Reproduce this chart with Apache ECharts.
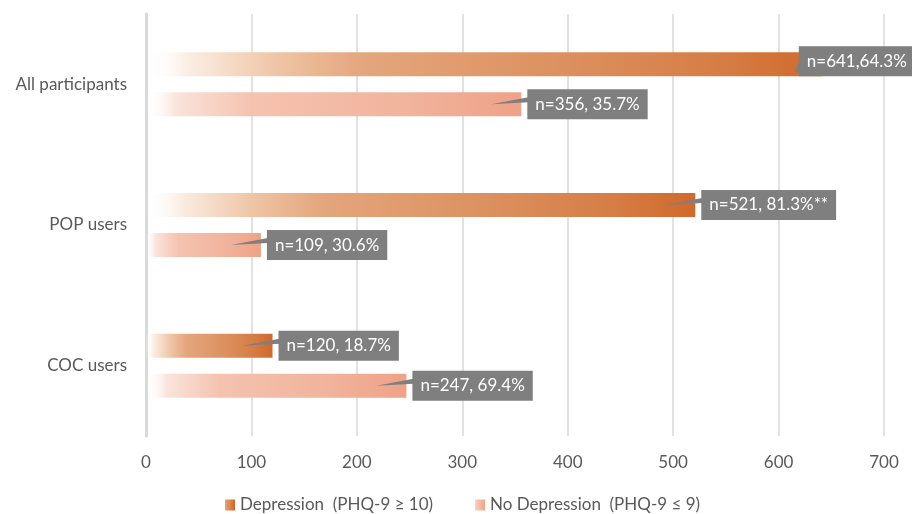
<!DOCTYPE html>
<html><head><meta charset="utf-8">
<script src="https://cdn.jsdelivr.net/npm/echarts@6/dist/echarts.min.js"></script>
<style>html,body{margin:0;padding:0;background:#fff}#c{width:912px;height:514px}</style>
</head><body><div id="c"></div>
<script>
const categories = ['All participants', 'POP users', 'COC users'];
const seriesNames = ['Depression  (PHQ-9 \u2265 10)', 'No Depression  (PHQ-9 \u2264 9)'];
const depression = [641, 521, 120];
const noDepression = [356, 109, 247];
const depressionLabels = ['n=641,64.3%', 'n=521, 81.3%**', 'n=120, 18.7%'];
const noDepressionLabels = ['n=356, 35.7%', 'n=109, 30.6%', 'n=247, 69.4%'];
const xTicks = [0, 700, 100]; // min, max, interval

const FONT = 'Lato, "Open Sans", sans-serif';
const FS = 17;
const grad = (stops) => new echarts.graphic.LinearGradient(0, 0, 1, 0, stops.map((c) => ({offset: c[0], color: c[1]})));
const depColor = grad([[0,'rgba(255,255,255,0)'],[0.06,'#fbeee4'],[0.2,'#eec3a3'],[0.32,'#e4a67d'],[0.6,'#dc9261'],[0.85,'#d67d45'],[1,'#d0692b']]);
const noDepColor = grad([[0,'rgba(255,255,255,0)'],[0.08,'#fae4db'],[0.28,'#f4c3b0'],[0.7,'#f1b39c'],[1,'#eea287']]);
const depLegend = grad([[0,'#e8a477'],[1,'#cf6424']]);
const noDepLegend = grad([[0,'#f7d0c0'],[1,'#efa489']]);

const labelBase = {
  show: true, position: 'right', distance: 6,
  backgroundColor: '#7f7f7f', color: '#fff', fontFamily: FONT, fontSize: FS,
  padding: [6, 8, 6, 8], lineHeight: 18
};

function barData(vals, labels, isDep) {
  return vals.map((v, i) => {
    const item = {value: v, label: {formatter: labels[i]}};
    if (isDep && i === 0) item.label.offset = [-29, -3];
    return item;
  });
}

// pointer wedges, positioned through axis scales
const pointerData = [];
depression.forEach((v, i) => pointerData.push([v, i, 0]));
noDepression.forEach((v, i) => pointerData.push([v, i, 1]));

function renderPointer(params, api) {
  const v = api.value(0), cat = api.value(1), s = api.value(2);
  const p = api.coord([v, cat]);
  const cy = p[1] + (s === 0 ? -20 : 20);
  const x = p[0];
  let pts;
  if (s === 0 && cat === 0) {
    const bl = x - 23;
    pts = [[bl + 1, cy - 4], [bl - 4, cy + 7], [bl + 1, cy + 8]];
  } else {
    const bl = x + 6;
    pts = [[bl + 1, cy - 7], [x - 30, cy], [bl + 1, cy - 2]];
  }
  return {type: 'polygon', shape: {points: pts}, style: {fill: '#7f7f7f'}, z2: 10};
}

const chart = echarts.init(document.getElementById('c'), null, {renderer: 'canvas'});
chart.setOption({
  animation: false,
  textStyle: {fontFamily: FONT},
  grid: {left: 146, right: 28, top: 14, bottom: 78, containLabel: false},
  legend: {
    top: 495, left: 225, itemWidth: 10, itemHeight: 11, itemGap: 42,
    icon: 'rect', padding: 0,
    textStyle: {color: '#595959', fontSize: FS, fontFamily: FONT, lineHeight: 20},
    data: [
      {name: seriesNames[0], itemStyle: {color: depLegend}},
      {name: seriesNames[1], itemStyle: {color: noDepLegend}}
    ]
  },
  xAxis: {
    type: 'value', min: xTicks[0], max: xTicks[1], interval: xTicks[2],
    axisLine: {show: false}, axisTick: {show: false},
    axisLabel: {color: '#595959', fontSize: FS, fontFamily: FONT, margin: 18},
    splitLine: {lineStyle: {color: '#d9d9d9', width: 1.5}}
  },
  yAxis: {
    type: 'category', data: categories, inverse: true,
    axisLine: {show: true, lineStyle: {color: '#d9d9d9', width: 3}},
    axisTick: {show: false},
    axisLabel: {color: '#595959', fontSize: FS, fontFamily: FONT, margin: 19}
  },
  series: [
    {name: seriesNames[0], type: 'bar', barWidth: 24, barGap: '67%',
     itemStyle: {color: depColor}, label: labelBase,
     data: barData(depression, depressionLabels, true), z: 2},
    {name: seriesNames[1], type: 'bar', barWidth: 24, barGap: '67%',
     itemStyle: {color: noDepColor}, label: labelBase,
     data: barData(noDepression, noDepressionLabels, false), z: 2},
    {type: 'custom', renderItem: renderPointer, data: pointerData, z: 5, silent: true,
     encode: {x: 0, y: 1}}
  ]
});
</script></body></html>
